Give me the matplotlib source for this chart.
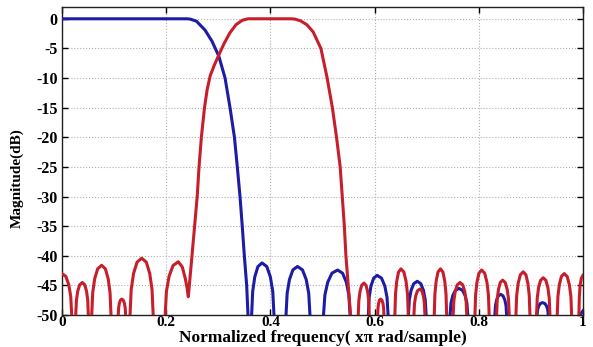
import matplotlib
matplotlib.use("Agg")
import matplotlib.pyplot as plt
from matplotlib.ticker import FixedLocator

# Low-pass branch (blue): frequency (x pi rad/sample) and magnitude (dB)
lp_freq = [
    0.0, 0.10, 0.20, 0.240, 0.246, 0.258, 0.2745, 0.288, 0.301, 0.313, 0.3225,
    0.331, 0.3365, 0.3417, 0.346, 0.350, 0.3545, 0.357, 0.3605,
    0.364, 0.366, 0.370, 0.376, 0.384, 0.3932, 0.400, 0.4046, 0.4069, 0.4185,
    0.430, 0.4322, 0.4366, 0.4432, 0.452, 0.4616, 0.4688, 0.4736, 0.476, 0.4875,
    0.502, 0.5047, 0.5101, 0.5182, 0.529, 0.5386, 0.5458, 0.5506, 0.553, 0.5705,
    0.588, 0.5897, 0.5931, 0.5982, 0.605, 0.6134, 0.6197, 0.6239, 0.626, 0.6455,
    0.665, 0.6667, 0.6701, 0.6752, 0.682, 0.6888, 0.6939, 0.6973, 0.699, 0.722,
    0.745, 0.7467, 0.7501, 0.7552, 0.762, 0.7688, 0.7739, 0.7773, 0.779, 0.805,
    0.831, 0.8321, 0.8343, 0.8376, 0.842, 0.8466, 0.8501, 0.8524, 0.8535, 0.883,
    0.912, 0.9131, 0.9152, 0.9183, 0.9225, 0.9269, 0.9302, 0.9324, 0.9335, 0.963,
    0.994, 1.0,
]
lp_mag = [
    0.0, 0.0, 0.0, 0.0, -0.05, -0.4, -1.9, -3.8, -6.3, -10.0, -15.0,
    -20.0, -25.0, -30.0, -35.0, -40.0, -45.0, -50.0, -60.0,
    -50.0, -46.04, -43.58, -41.82, -41.2, -41.82, -43.58, -46.04, -50.0, -60.0,
    -50.0, -46.31, -44.01, -42.37, -41.8, -42.37, -44.01, -46.31, -50.0, -60.0,
    -50.0, -46.58, -44.45, -42.93, -42.4, -42.93, -44.45, -46.58, -50.0, -60.0,
    -50.0, -46.99, -45.11, -43.77, -43.3, -43.77, -45.11, -46.99, -50.0, -60.0,
    -50.0, -47.44, -45.84, -44.70, -44.3, -44.70, -45.84, -47.44, -50.0, -60.0,
    -50.0, -47.98, -46.72, -45.82, -45.5, -45.82, -46.72, -47.98, -50.0, -60.0,
    -50.0, -48.43, -47.45, -46.75, -46.5, -46.75, -47.45, -48.43, -50.0, -60.0,
    -50.0, -49.06, -48.47, -48.05, -47.9, -48.05, -48.47, -49.06, -50.0, -60.0,
    -50.0, -49.3,
]

# Band-pass branch (red)
bp_freq = [
    0.0, 0.0074, 0.013, 0.0167, 0.0186, 0.0225,
    0.0263, 0.0276, 0.0301, 0.0339, 0.039, 0.0436, 0.0471, 0.0494, 0.0505, 0.054,
    0.057, 0.0589, 0.0627, 0.0684, 0.076, 0.0832, 0.0886, 0.0922, 0.094, 0.101,
    0.108, 0.1087, 0.110, 0.112, 0.1146, 0.1176, 0.1198, 0.1213, 0.122, 0.126,
    0.1305, 0.1328, 0.1373, 0.144, 0.153, 0.1618, 0.1684, 0.1728, 0.175, 0.186,
    0.198, 0.2005, 0.2056, 0.2132, 0.2233, 0.2309, 0.2366, 0.2402, 0.2424,
    0.2465, 0.2495, 0.2545, 0.2595, 0.263, 0.2675, 0.2735, 0.2785, 0.2845,
    0.292, 0.301, 0.311, 0.322, 0.334, 0.346, 0.357, 0.400, 0.440,
    0.447, 0.458, 0.470, 0.482, 0.497, 0.509, 0.519, 0.527, 0.534,
    0.538, 0.542, 0.545, 0.5495, 0.554, 0.5615,
    0.5687, 0.5698, 0.572, 0.5752, 0.5796, 0.5837, 0.5867, 0.5888, 0.5898, 0.598,
    0.606, 0.6066, 0.6077, 0.6094, 0.6117, 0.6142, 0.6161, 0.6174, 0.618, 0.6285,
    0.639, 0.6402, 0.6425, 0.646, 0.6507, 0.6563, 0.6605, 0.6633, 0.6647, 0.670,
    0.6756, 0.6767, 0.679, 0.6824, 0.687, 0.6909, 0.6938, 0.6957, 0.6967, 0.7055,
    0.7146, 0.7158, 0.7182, 0.7217, 0.7265, 0.7313, 0.7348, 0.7372, 0.7384, 0.745,
    0.751, 0.7523, 0.7549, 0.7588, 0.764, 0.7692, 0.7731, 0.7757, 0.777, 0.785,
    0.7927, 0.794, 0.7966, 0.8004, 0.8056, 0.8114, 0.8157, 0.8186, 0.820, 0.827,
    0.8343, 0.8355, 0.8378, 0.8413, 0.8459, 0.8509, 0.8547, 0.8572, 0.8585, 0.865,
    0.8714, 0.8728, 0.8756, 0.8798, 0.8854, 0.8906, 0.8944, 0.897, 0.8983, 0.9045,
    0.911, 0.9123, 0.9148, 0.9187, 0.9238, 0.9289, 0.9328, 0.9354, 0.9367, 0.9437,
    0.9507, 0.952, 0.9547, 0.9587, 0.9641, 0.9698, 0.974, 0.9769, 0.9783, 0.985,
    0.9923, 0.9931, 0.9946, 0.9969, 1.0,
]
bp_mag = [
    -43.0, -43.49, -44.89, -46.85, -50.0, -60.0,
    -50.0, -47.53, -45.99, -44.89, -44.5, -44.89, -45.99, -47.53, -50.0, -60.0,
    -50.0, -46.22, -43.87, -42.19, -41.6, -42.19, -43.87, -46.22, -50.0, -60.0,
    -50.0, -48.79, -48.03, -47.49, -47.3, -47.49, -48.03, -48.79, -50.0, -60.0,
    -50.0, -45.68, -42.99, -41.07, -40.4, -41.07, -42.99, -45.68, -50.0, -60.0,
    -50.0, -45.95, -43.43, -41.63, -41.0, -41.9, -43.8, -45.5, -46.9,
    -43.0, -40.0, -35.0, -30.0, -25.0, -20.0, -15.0, -12.0, -9.6,
    -7.9, -6.1, -4.2, -2.4, -1.0, -0.25, 0.0, 0.0, 0.0,
    -0.05, -0.35, -1.0, -2.2, -5.0, -10.0, -15.0, -20.0, -25.0,
    -30.0, -35.0, -40.0, -45.0, -50.0, -60.0,
    -50.0, -47.57, -46.06, -44.98, -44.6, -44.98, -46.06, -47.57, -50.0, -60.0,
    -50.0, -48.79, -48.03, -47.49, -47.3, -47.49, -48.03, -48.79, -50.0, -60.0,
    -50.0, -46.49, -44.31, -42.75, -42.2, -42.75, -44.31, -46.49, -50.0, -60.0,
    -50.0, -48.02, -46.79, -45.91, -45.6, -45.91, -46.79, -48.02, -50.0, -60.0,
    -50.0, -46.49, -44.31, -42.75, -42.2, -42.75, -44.31, -46.49, -50.0, -60.0,
    -50.0, -47.53, -45.99, -44.89, -44.5, -44.89, -45.99, -47.53, -50.0, -60.0,
    -50.0, -46.58, -44.45, -42.93, -42.4, -42.93, -44.45, -46.58, -50.0, -60.0,
    -50.0, -47.35, -45.69, -44.51, -44.1, -44.51, -45.69, -47.35, -50.0, -60.0,
    -50.0, -46.72, -44.67, -43.21, -42.7, -43.21, -44.67, -46.72, -50.0, -60.0,
    -50.0, -47.17, -45.40, -44.14, -43.7, -44.14, -45.40, -47.17, -50.0, -60.0,
    -50.0, -46.85, -44.89, -43.49, -43.0, -43.49, -44.89, -46.85, -50.0, -60.0,
    -50.0, -47.0, -45.0, -43.8, -43.3,
]

x_ticks = [0, 0.2, 0.4, 0.6, 0.8, 1.0]
x_tick_labels = ["0", "0.2", "0.4", "0.6", "0.8", "1"]
y_ticks = [0, -5, -10, -15, -20, -25, -30, -35, -40, -45, -50]
y_tick_labels = ["0", "-5", "-10", "-15", "-20", "-25", "-30", "-35", "-40", "-45", "-50"]

plt.rcParams["font.family"] = ["Liberation Serif", "DejaVu Serif"]
plt.rcParams["font.weight"] = "bold"

fig = plt.figure(figsize=(5.93, 3.47), dpi=100, facecolor="white")
ax = fig.add_axes([0.1046, 0.092, 0.8784, 0.888])

ax.plot(lp_freq, lp_mag, color="#1c1ca6", lw=2.2, solid_joinstyle="round", zorder=3)
ax.plot(bp_freq, bp_mag, color="#c61e2a", lw=2.2, solid_joinstyle="round", zorder=4)

ax.set_xlim(0, 1)
ax.set_ylim(-50, 2)
ax.xaxis.set_major_locator(FixedLocator(x_ticks))
ax.yaxis.set_major_locator(FixedLocator(y_ticks))
ax.set_xticklabels(x_tick_labels, fontsize=11, fontweight="bold")
ax.set_yticklabels(y_tick_labels, fontsize=11.5, fontweight="bold")
ax.tick_params(direction="in", length=4, width=1.0, top=True, right=True)
ax.tick_params(axis="x", pad=1)
ax.tick_params(axis="y", pad=3)

ax.grid(True, color="#b0b0b0", linestyle=":", linewidth=0.8)
for s in ax.spines.values():
    s.set_linewidth(1.0)
    s.set_color("#202020")

ax.set_xlabel("Normalized frequency( x\u03c0 rad/sample)", fontsize=12.5,
              fontweight="bold", va="center")
ax.xaxis.set_label_coords(0.5, -0.073)
ax.set_ylabel("Magnitude(dB)", fontsize=11, fontweight="bold", va="center")
ax.yaxis.set_label_coords(-0.086, 0.445)

fig.savefig("out.png", dpi=100, facecolor="white")
